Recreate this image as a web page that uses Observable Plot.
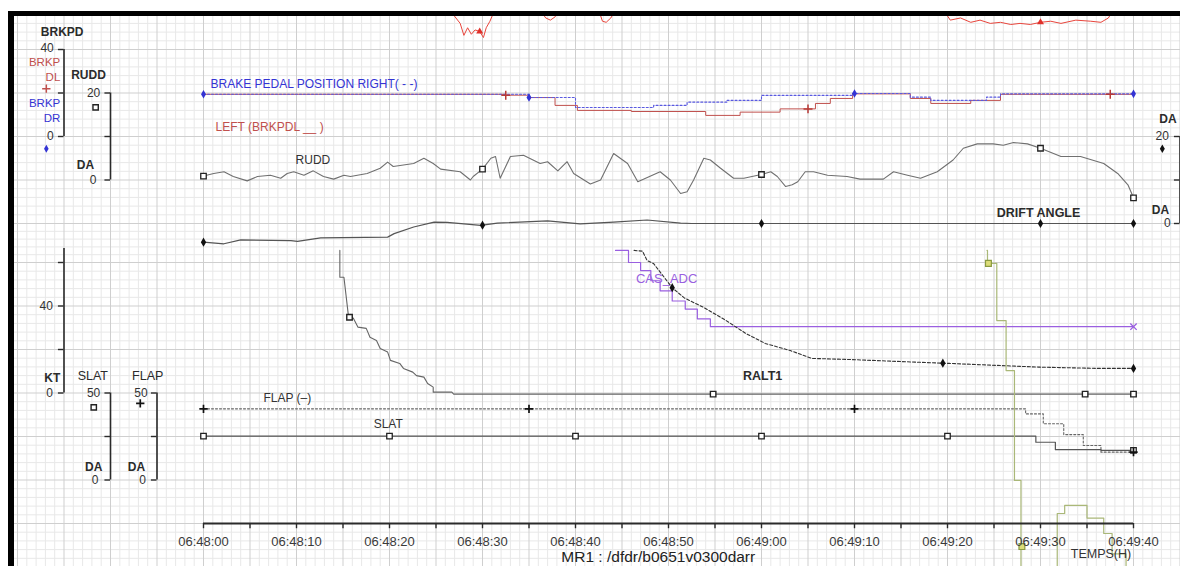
<!DOCTYPE html>
<html><head><meta charset="utf-8">
<script src="https://cdn.jsdelivr.net/npm/d3@7"></script>
<script src="https://cdn.jsdelivr.net/npm/@observablehq/plot@0.6"></script>
<style>
body{margin:0;background:#fff;}
#wrap{position:relative;width:1180px;height:566px;overflow:hidden;}
#wrap svg{display:block;}
.ov{position:absolute;pointer-events:none;}
</style></head>
<body><div id="wrap"></div>
<script>
// ---------------- DATA (seconds after 06:48:00) ----------------
const timeTicks = [0,5,10,15,20,25,30,35,40,45,50,55,60,65,70,75,80,85,90,95,100];
const timeLabelTicks = [0,10,20,30,40,50,60,70,80,90,100];
const timeTickLabels = ["06:48:00","06:48:10","06:48:20","06:48:30","06:48:40","06:48:50","06:49:00","06:49:10","06:49:20","06:49:30","06:49:40"];

// red trace above BRKPD scale (mostly off top)
const topT = [26.5,27.6,28.0,28.4,28.8,29.2,29.7,30.1,30.4,30.8,31.3,36.2,36.8,37.3,37.8,38.3,42.5,42.9,43.3,43.8,44.3,79.6,80.3,81.4,82.5,83.5,84.6,85.7,86.8,87.8,88.9,90.0,91.1,92.2,93.8,95.4,96.5,97.3,97.8];
const topV = [58,52,46.5,50,47,49,48.3,45.5,50,53,58,58,54.5,53.5,55,58,58,53,52.5,54.5,58,58,53.5,54.5,52.5,53.5,52.0,52.5,51.5,52.0,51.5,52.5,53.0,52.0,53.5,53.0,52.5,54.5,58];
const topMarkT = [29.7, 90.0];

// brake pedal left (BRKPDL) and right (BRKPDR)
const brkLeftT = [0,32.5,35,37.8,40.2,46,54,57.7,62,65.8,67.4,69.8,76,78.2,82.5,85.7,100];
const brkLeftV = [19.4,19.0,17.9,14.3,12.0,11.5,9.7,11.2,12.7,15.2,17.5,19.6,17.5,15.2,16.6,19.4,19.4];
const brkLeftMarkT = [32.5, 65, 97.5];
const brkRightT = [0,35,40,48.4,52,56.3,60,69.8,76,78.2,84.2,85.7,100];
const brkRightV = [19.4,17.9,13.3,14.3,15.8,16.6,18.9,19.8,18.1,16.6,18.1,19.6,19.6];
const brkRightMarkT = [0, 35, 70, 100];

// rudder
const ruddT = [0,1.1,2.2,3.2,4.7,5.8,7.2,8.3,9.0,9.7,10.8,11.8,12.9,14.0,15.1,15.8,17.6,19.0,19.8,20.4,22.6,23.7,24.7,25.5,27.6,28.7,29.0,30.0,30.9,31.4,31.9,33.0,34.4,36.2,37.0,38.1,39.1,39.8,41.6,42.7,44.1,45.6,46.7,49.1,50.2,51.3,52.0,52.7,53.8,54.5,55.6,57.0,58.1,59.6,60.1,61.0,61.7,62.6,63.3,63.9,64.7,65.6,67.1,69.2,70.6,73.1,74.2,75.7,77.1,78.9,80.6,81.7,83.2,84.9,86.0,87.1,88.6,90.0,92.2,94.3,96.8,98.3,99.4,100];
const ruddV = [0.9,1.5,1.9,0.8,-0.2,0.8,1.1,0.4,1.5,1.9,1.1,2.1,0.8,0.2,1.1,0.8,1.5,2.7,4.1,3.1,3.8,5.0,3.8,2.5,1.9,0,0.8,2.5,5.0,5.4,0.4,5.4,5.7,3.8,4.2,2.1,4.2,1.5,-0.9,0,6.1,3.8,-0.4,1.9,0,-3.1,-2.7,0,5.0,4.6,2.7,0.4,0.4,1.1,1.3,1.9,0.8,-1.5,-1.1,-0.4,1.9,1.9,1.1,0.8,0.2,0.2,1.9,1.1,0.4,1.9,4.6,7.3,8.3,8.3,8.0,8.6,8.3,7.3,5.4,5.4,3.8,1.5,-1.1,-4.1];
const ruddMarkT = [0, 30, 60, 90, 100];

// drift angle
const driftT = [0,2.2,4.0,9.4,10.1,12.6,19.8,20.5,22.6,24.8,26.2,29.8,31.6,37.0,40.5,44.1,47.7,51.3,52.5,100];
const driftV = [-4.8,-5.2,-4.2,-4.4,-4.6,-3.7,-3.5,-2.6,-0.9,0.3,0.25,-0.5,0.1,0.6,-0.1,0.3,0.8,0.1,0,0];
const driftMarkT = [0, 30, 60, 90, 100];

// CAS_ADC (kt)
const casT = [44.3,45.7,47.0,48.1,49.1,50.4,51.8,53.1,54.5,100];
const casV = [66.2,60,56.3,51.6,47,42.3,38.6,34.1,30.5,30.5];

// dashed speed trace (kt)
const gsT = [46.3,47.2,47.7,48.4,50.4,51.7,53.8,56.2,58.3,60.4,63.1,65.4,69.5,76.5,80.2,89.8,96.3,100];
const gsV = [66.2,65.8,61,59.5,48.4,43.7,39.3,33.3,27.4,22.8,19.5,15.9,15.4,14.2,13.6,11.9,11.3,11.3];
const gsMarkT = [50.4, 79.5, 100];

// RALT1
const raltT = [14.66,14.66,15.1,15.6,16.1,16.6,17.5,17.9,18.6,19.0,19.8,20.1,21.1,21.5,22.5,22.9,23.7,24.1,24.7,24.7,26.7,26.9,100];
const raltV = [66.2,53.2,53.2,34.9,34.5,30.3,29.7,25.6,24.1,20.5,18.8,15.0,13.6,11.3,9.6,8.0,7.3,4.4,2.7,0.4,0.4,-0.5,-0.5];
const raltMarkT = [15.7, 54.8, 94.8, 100];

// green trace
const greenAT = [84.25,84.3,85.3,86.3,87.2,87.9,88.0];
const greenAV = [66.2,59.6,33.3,10.3,-40.2,-90,-90];
const greenBT = [91.75,91.8,92.6,95.0,96.8,97.7,99.2,99.5];
const greenBV = [-90,-55.4,-51.7,-57.5,-64.6,-74,-90,-90];
const greenMarkT = [84.4, 88.0];
const greenMarkV = [59.6, -70.6];

// flap / slat (DA)
const flapT = [0,88.4,90.3,92.5,94.6,96.5,100];
const flapV = [40.9,38.0,32.3,26.1,19.8,16.0,16.0];
const flapMarkT = [0, 35, 70, 100];
const slatT = [0,89.5,91.6,96.5,100];
const slatV = [25.2,21.7,17.4,17.0,17.0];
const slatMarkT = [0, 20, 40, 60, 80, 100];

// ---------------- track mappings (value -> grid unit) ----------------
const uBRK = v => 9 + v / 20;
const uRUDD = v => 8 + v / 10;
const uDA = v => 7 + v / 10;
const uKT = v => 3 + v / 20;
const uSF = v => 1 + v / 25;

const pts = (ts, vs, f) => ts.map((t, i) => ({t, u: f(vs[i])}));
function at(ts, vs, t, step) {
  for (let i = ts.length - 1; i >= 0; i--) {
    if (ts[i] <= t) {
      if (step || i === ts.length - 1) return vs[i];
      const f = (t - ts[i]) / (ts[i + 1] - ts[i]);
      return vs[i] + f * (vs[i + 1] - vs[i]);
    }
  }
  return vs[0];
}
const marks = (mt, ts, vs, f, step) => mt.map(t => ({t, u: f(at(ts, vs, t, step))}));

// grid
const gridMajorT = d3.range(-20, 106, 5);
const gridMinorT = d3.range(-20, 106, 1).filter(t => t % 5 !== 0);
const gridMajorU = d3.range(-1, 13, 1);
const gridMinorU = d3.range(-1, 12.01, 0.2).map(u => +u.toFixed(2)).filter(u => Math.abs(u - Math.round(u)) > 0.01);

const INK = "#2b2b2b";
const RED = "#c0504d", BLUE = "#3434d4", PURPLE = "#9a5fe0";

function txt(data, opts) {
  return Plot.text(data, {x: "t", y: "u", text: "s", fill: d => d.c || INK, ...opts});
}
function vAxis(t, u0, u1, tickU, dir) {
  return [
    Plot.ruleX([t], {x: d => d, y1: u0, y2: u1, stroke: INK, strokeWidth: 1.6}),
    Plot.ruleY(tickU, {y: d => d, x1: t, x2: t + dir * 0.6, stroke: INK, strokeWidth: 1.4})
  ];
}

const chart = Plot.plot({
  width: 1180, height: 566, margin: 0,
  x: {type: "linear", domain: [0, 100], range: [203, 1133], axis: null},
  y: {type: "linear", domain: [0, 6, 7, 11], range: [523, 262, 223, 49], axis: null},
  style: {fontFamily: "'Liberation Sans', Arial, sans-serif", fontSize: "12px", background: "#fff", overflow: "hidden"},
  marks: [
    // grid
    Plot.ruleX(gridMinorT, {stroke: "#e8e8e8", strokeWidth: 1}),
    Plot.ruleY(gridMinorU, {stroke: "#e8e8e8", strokeWidth: 1}),
    Plot.ruleX(gridMajorT, {stroke: "#cfcfcf", strokeWidth: 1}),
    Plot.ruleY(gridMajorU, {stroke: "#cfcfcf", strokeWidth: 1}),

    // traces
    Plot.line(pts(topT, topV, uBRK), {x: "t", y: "u", stroke: "#e8453c", strokeWidth: 1, clip: true}),
    Plot.dot(marks(topMarkT, topT, topV, uBRK), {x: "t", y: "u", symbol: "triangle", r: 2.6, fill: "#e0302a"}),
    Plot.line(pts(brkLeftT, brkLeftV, uBRK), {x: "t", y: "u", stroke: RED, strokeWidth: 1, curve: "step-after"}),
    Plot.line(pts(brkRightT, brkRightV, uBRK), {x: "t", y: "u", stroke: "#5a5ae0", strokeWidth: 1.1, strokeDasharray: "2,2", curve: "step-after"}),
    Plot.dot(marks(brkLeftMarkT, brkLeftT, brkLeftV, uBRK, true), {x: "t", y: "u", symbol: "plus", r: 3, stroke: "#b83a36", strokeWidth: 1.5}),
    Plot.dot(marks(brkRightMarkT, brkRightT, brkRightV, uBRK, true), {x: "t", y: "u", symbol: "diamond", r: 2.6, fill: BLUE}),

    Plot.line(pts(ruddT, ruddV, uRUDD), {x: "t", y: "u", stroke: "#707070", strokeWidth: 1.1}),
    Plot.dot(marks(ruddMarkT, ruddT, ruddV, uRUDD), {x: "t", y: "u", symbol: "square", r: 3.1, fill: "#fff", stroke: "#222", strokeWidth: 1.3}),

    Plot.line(pts(driftT, driftV, uDA), {x: "t", y: "u", stroke: "#555", strokeWidth: 1.2}),
    Plot.dot(marks(driftMarkT, driftT, driftV, uDA), {x: "t", y: "u", symbol: "diamond", r: 2.8, fill: "#111"}),

    Plot.line(pts(raltT, raltV, uKT), {x: "t", y: "u", stroke: "#666", strokeWidth: 1.1}),
    Plot.dot(marks(raltMarkT, raltT, raltV, uKT), {x: "t", y: "u", symbol: "square", r: 3.1, fill: "#fff", stroke: "#222", strokeWidth: 1.4}),

    Plot.line(pts(casT, casV, uKT), {x: "t", y: "u", stroke: PURPLE, strokeWidth: 1.2, curve: "step-after"}),
    Plot.dot([{t: 100, u: uKT(at(casT, casV, 100, true))}], {x: "t", y: "u", symbol: "times", r: 3, stroke: PURPLE, strokeWidth: 1.3}),

    Plot.line(pts(gsT, gsV, uKT), {x: "t", y: "u", stroke: "#333", strokeWidth: 1.1, strokeDasharray: "3,2"}),
    Plot.dot(marks(gsMarkT, gsT, gsV, uKT), {x: "t", y: "u", symbol: "diamond", r: 2.8, fill: "#111"}),

    Plot.line(pts(flapT, flapV, uSF), {x: "t", y: "u", stroke: "#666", strokeWidth: 1.1, strokeDasharray: "2,2", curve: "step-after"}),
    Plot.line(pts(slatT, slatV, uSF), {x: "t", y: "u", stroke: "#555", strokeWidth: 1.2, curve: "step-after"}),
    Plot.dot(marks(slatMarkT, slatT, slatV, uSF, true), {x: "t", y: "u", symbol: "square", r: 3.1, fill: "#fff", stroke: "#222", strokeWidth: 1.3}),
    Plot.dot(marks(flapMarkT, flapT, flapV, uSF, true), {x: "t", y: "u", symbol: "plus", r: 2.8, stroke: "#111", strokeWidth: 1.7}),

    Plot.line(pts(greenAT, greenAV, uKT), {x: "t", y: "u", stroke: "#aab878", strokeWidth: 1.2, curve: "step-after", clip: true}),
    Plot.line(pts(greenBT, greenBV, uKT), {x: "t", y: "u", stroke: "#aab878", strokeWidth: 1.2, curve: "step-after", clip: true}),
    Plot.dot(pts(greenMarkT, greenMarkV, uKT), {x: "t", y: "u", symbol: "square", r: 3.3, fill: "#dcdc78", stroke: "#8a9a40", strokeWidth: 1.2}),

    // axes
    ...vAxis(-15, 9, 11, [9, 10, 11], -1),
    ...vAxis(-10, 8, 10, [8, 9, 10], -1),
    ...vAxis(105, 7, 9, [7, 8, 9], -1),
    ...vAxis(-15, 3, 6.36, [3, 4, 5, 6], -1),
    ...vAxis(-10, 1, 3, [1, 2, 3], -1),
    ...vAxis(-5, 1, 3, [1, 2, 3], -1),
    Plot.ruleY([0], {y: d => d, x1: 0, x2: 100, stroke: INK, strokeWidth: 2}),
    Plot.ruleX(timeTicks, {x: d => d, y1: 0, y2: -0.12, stroke: INK, strokeWidth: 1.4}),
    Plot.text(timeLabelTicks, {x: d => d, y: -0.41, text: (d, i) => timeTickLabels[i], fontSize: 13, fill: "#3a3a3a"}),

    // axis texts (bold)
    txt([
      {t: -15.2, u: 11.41, s: "BRKPD"},
      {t: -12.7, u: 8.33, s: "DA"},
      {t: 103.7, u: 9.41, s: "DA"},
      {t: 102.9, u: 7.3, s: "DA"},
      {t: -11.8, u: 1.29, s: "DA"},
      {t: -7.2, u: 1.29, s: "DA"}
    ], {fontWeight: "bold", fontSize: 12}),
    txt([
      {t: -10.5, u: 10.4, s: "RUDD"},
      {t: -15.4, u: 3.33, s: "KT"}
    ], {fontWeight: "bold", fontSize: 12, textAnchor: "end"}),
    txt([
      {t: -11.9, u: 3.4, s: "SLAT"},
      {t: -6.0, u: 3.4, s: "FLAP"}
    ], {fontSize: 12.5}),
    txt([
      {t: -16.1, u: 11.03, s: "40"}, {t: -16.1, u: 9, s: "0"},
      {t: -11.1, u: 10, s: "20"}, {t: -11.5, u: 8, s: "0"},
      {t: 103.8, u: 9, s: "20"}, {t: 104.0, u: 7, s: "0"},
      {t: -16.2, u: 5, s: "40"}, {t: -16.2, u: 3, s: "0"},
      {t: -11.1, u: 3, s: "50"}, {t: -11.3, u: 1, s: "0"},
      {t: -6.0, u: 3, s: "50"}, {t: -6.2, u: 1, s: "0"}
    ], {fontSize: 12, textAnchor: "end", fill: "#333"}),
    txt([
      {t: -15.4, u: 10.71, s: "BRKP", c: RED},
      {t: -15.4, u: 10.37, s: "DL", c: RED},
      {t: -15.4, u: 9.76, s: "BRKP", c: BLUE},
      {t: -15.4, u: 9.41, s: "DR", c: BLUE}
    ], {fontSize: 11.5, textAnchor: "end"}),
    // axis legend symbols
    Plot.dot([{t: -16.9, u: 10.1}], {x: "t", y: "u", symbol: "plus", r: 2.8, stroke: RED, strokeWidth: 1.5}),
    Plot.dot([{t: -16.9, u: 8.72}], {x: "t", y: "u", symbol: "diamond", r: 2.4, fill: BLUE}),
    Plot.dot([{t: -11.6, u: 9.67}, {t: -11.8, u: 2.67}], {x: "t", y: "u", symbol: "square", r: 3, fill: "#fff", stroke: "#222", strokeWidth: 1.4}),
    Plot.dot([{t: 103.1, u: 8.72}], {x: "t", y: "u", symbol: "diamond", r: 2.6, fill: "#111"}),
    Plot.dot([{t: -6.8, u: 2.76}], {x: "t", y: "u", symbol: "plus", r: 2.8, stroke: "#111", strokeWidth: 1.7}),

    // trace labels
    txt([
      {t: 0.75, u: 10.2, s: "BRAKE PEDAL POSITION RIGHT( - -)", c: BLUE},
      {t: 1.3, u: 9.21, s: "LEFT (BRKPDL __ )", c: RED},
      {t: 9.9, u: 8.45, s: "RUDD", c: "#333"},
      {t: 6.45, u: 2.87, s: "FLAP (–)", c: "#333"},
      {t: 18.3, u: 2.28, s: "SLAT", c: "#333"}
    ], {fontSize: 12, textAnchor: "start"}),
    txt([{t: 46.5, u: 5.63, s: "CAS_ADC", c: PURPLE}], {fontSize: 13, textAnchor: "start"}),
    txt([
      {t: 85.3, u: 7.23, s: "DRIFT ANGLE"},
      {t: 58.0, u: 3.4, s: "RALT1"}
    ], {fontSize: 12.5, fontWeight: "bold", textAnchor: "start"}),
    txt([{t: 48.9, u: -0.78, s: "MR1 : /dfdr/b0651v0300darr", c: "#222"}], {fontSize: 15.5}),
    txt([{t: 96.5, u: -0.69, s: "TEMPS(H)", c: "#333"}], {fontSize: 12.5})
  ]
});

const wrap = document.getElementById("wrap");
wrap.appendChild(chart);
// frame decoration (white margin + black border, top and left)
const add = css => { const d = document.createElement("div"); d.className = "ov"; d.style.cssText = css; wrap.appendChild(d); };
add("left:0;top:0;width:1180px;height:11px;background:#fff;");
add("left:0;top:0;width:8px;height:566px;background:#fff;");
add("left:8px;top:11px;width:1172px;height:5px;background:#000;");
add("left:8px;top:11px;width:6px;height:555px;background:#000;");
</script>
</body></html>
